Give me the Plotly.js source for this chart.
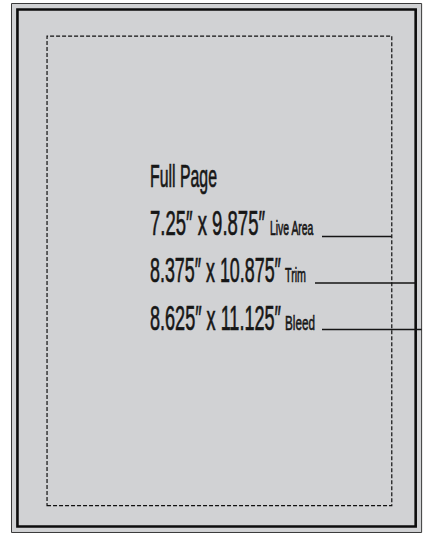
<!DOCTYPE html>
<html>
<head>
<meta charset="utf-8">
<script src="https://cdn.plot.ly/plotly-3.0.1.min.js"></script>
<style>
  html, body { margin: 0; padding: 0; background: #ffffff; }
  #chart { width: 435px; height: 533px; }
  #chart .annotation-text { stroke: #161616; stroke-width: 0.35px; paint-order: stroke fill; }
</style>
</head>
<body>
<div id="chart"></div>
<script>
// ---- data (inches) ----
const heading = 'Full Page';
const areaNames = ['Live Area', 'Trim', 'Bleed'];
const areaWidths = [7.25, 8.375, 8.625];
const areaHeights = [9.875, 10.875, 11.125];

// ---- style / layout constants ----
const FONT = "'Liberation Sans Narrow', 'Liberation Sans', Arial, sans-serif";
const INK = '#161616';
const PAGE_GREY = '#d1d2d4';
const S = 47.55;                 // px per inch
const ORIGIN_X = 11.5;           // px of the bleed's left edge
const TOP_PAD = 3.5;             // px above the bleed's top edge
const liveShift = [0.06, -0.06];
const ASC = 0.905, DESC = 0.212, CAP = 0.716;   // font metrics (em)

const bW = areaWidths[2], bH = areaHeights[2];
const yTop = bH + TOP_PAD / S;
const toX = px => (px - ORIGIN_X) / S;
const toY = py => yTop - py / S;

// text placement (pixels in the 435x533 frame): left, baseline, width, cap height
const headingPos = {x: 150, base: 187, w: 67, cap: 23};
const rowBase = [235, 282, 330];
const bigX = 150, bigW = [115, 131, 131], bigCap = 25;
const smallX = [270, 285, 285], smallW = [44, 21, 30], smallCap = 15;
const leaderPx = [{x: 322, y: 236.5}, {x: 315, y: 283}, {x: 322, y: 329.5}];

function rectOf(i) {
  let x0 = (bW - areaWidths[i]) / 2, y0 = (bH - areaHeights[i]) / 2;
  if (i === 0) { x0 += liveShift[0]; y0 += liveShift[1]; }
  return {x0: x0, y0: y0, x1: x0 + areaWidths[i], y1: y0 + areaHeights[i]};
}
const rects = areaNames.map((_, i) => rectOf(i));

const shapes = [
  Object.assign({type: 'rect', xref: 'x', yref: 'y', fillcolor: PAGE_GREY,
    line: {color: '#3a3a3a', width: 1}, layer: 'below'}, rects[2]),
  Object.assign({type: 'rect', xref: 'x', yref: 'y', fillcolor: 'rgba(0,0,0,0)',
    line: {color: '#0d0d0d', width: 2.6}}, rects[1]),
  Object.assign({type: 'rect', xref: 'x', yref: 'y', fillcolor: 'rgba(0,0,0,0)',
    line: {color: '#111', width: 1.2, dash: '4px,2px'}}, rects[0])
];
areaNames.forEach((n, i) => {
  shapes.push({type: 'line', xref: 'x', yref: 'y',
    x0: toX(leaderPx[i].x), x1: rects[i].x1, y0: toY(leaderPx[i].y), y1: toY(leaderPx[i].y),
    line: {color: '#151515', width: 1.3}});
});

// choose a font size whose natural width matches the reference width,
// then stretch vertically to the reference cap height (condensed look)
const ctx = document.createElement('canvas').getContext('2d');
function naturalWidth(text, size) {
  ctx.font = size + 'px ' + FONT;
  return ctx.measureText(text).width;
}
const textInfo = [];
const annotations = [];
function addText(text, px, base, w, cap) {
  const fs = 20 * w / naturalWidth(text, 20);
  const sy = cap / (CAP * fs);
  annotations.push({
    x: toX(px), y: toY(base - (ASC - DESC) / 2 * fs), xref: 'x', yref: 'y',
    xanchor: 'left', yanchor: 'middle', align: 'left', showarrow: false,
    borderpad: 0, borderwidth: 0,
    text: text, font: {family: FONT, size: fs, color: INK}
  });
  textInfo.push({fs: fs, sy: sy});
}
addText(heading, headingPos.x, headingPos.base, headingPos.w, headingPos.cap);
areaNames.forEach((n, i) => {
  addText(String(areaWidths[i]) + '″ x ' + String(areaHeights[i]) + '″', bigX, rowBase[i], bigW[i], bigCap);
  addText(n, smallX[i], rowBase[i], smallW[i], smallCap);
});

const layout = {
  width: 435, height: 533,
  margin: {l: 0, r: 0, t: 0, b: 0},
  paper_bgcolor: '#ffffff', plot_bgcolor: '#ffffff',
  showlegend: false,
  xaxis: {range: [toX(0), toX(435)], visible: false, fixedrange: true},
  yaxis: {range: [toY(533), toY(0)], visible: false, fixedrange: true},
  shapes: shapes,
  annotations: annotations
};

Plotly.newPlot('chart', [], layout, {displayModeBar: false, staticPlot: true}).then(gd => {
  gd.querySelectorAll('.annotation').forEach(g => {
    const info = textInfo[+g.getAttribute('data-index')];
    const t = g.querySelector('.annotation-text');
    if (!info || !t) return;
    const bb = t.getBBox();
    const base = bb.y + ASC * info.fs;
    const prev = t.getAttribute('transform');
    const mine = 'translate(0,' + base + ') scale(1,' + info.sy + ') translate(0,' + (-base) + ')';
    t.setAttribute('transform', (prev ? prev + ' ' : '') + mine);
  });
});
</script>
</body>
</html>
